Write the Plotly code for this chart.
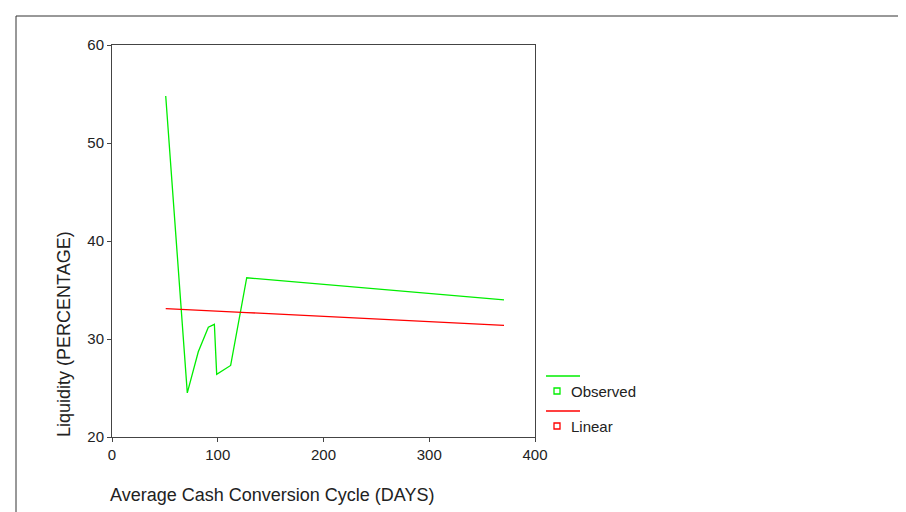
import plotly.graph_objects as go

# Observed series
obs_x = [50.8, 71.2, 81.6, 91.1, 96.8, 99.0, 112.2, 127.4, 370.7]
obs_y = [54.8, 24.5, 28.7, 31.2, 31.5, 26.4, 27.3, 36.25, 34.0]

# Linear fit series
lin_x = [50.8, 71.2, 81.6, 91.1, 96.8, 99.0, 112.2, 127.4, 370.7]
lin_y = [33.1, 33.0, 32.9, 32.9, 32.8, 32.8, 32.8, 32.7, 31.4]

x_ticks = [0, 100, 200, 300, 400]
y_ticks = [20, 30, 40, 50, 60]

x_title = "Average Cash Conversion Cycle (DAYS)"
y_title = "Liquidity (PERCENTAGE)"
legend_names = ["Observed", "Linear"]
colors = ["#00ee00", "#ff0000"]

FONT = "Liberation Sans, Arial, sans-serif"

# page body margin offset (screen px -> figure px)
OFF = 8

fig = go.Figure()
fig.add_trace(go.Scatter(x=obs_x, y=obs_y, mode="lines",
                         line=dict(color=colors[0], width=1.3), showlegend=False))
fig.add_trace(go.Scatter(x=lin_x, y=lin_y, mode="lines",
                         line=dict(color=colors[1], width=1.3), showlegend=False))

axis_common = dict(showgrid=False, zeroline=False, showline=True, mirror=True,
                   linecolor="#444444", linewidth=1, ticks="outside", ticklen=4,
                   tickcolor="#444444", tickfont=dict(family=FONT, size=15, color="#222222"))

fig.update_xaxes(range=[0, 400], tickvals=x_ticks, **axis_common)
fig.update_yaxes(range=[20, 60], tickvals=y_ticks, **axis_common)

W, H = 906 - OFF, 512 - OFF
# plot area in screen coordinates
SL, SR, ST, SB = 112, 535, 45, 437


def px(x):
    return (x - SL) / (SR - SL)


def py(y):
    return (SB - y) / (SB - ST)


shapes = []
# outer border (extends past right and bottom edges)
shapes.append(dict(type="rect", xref="paper", yref="paper",
                   x0=px(16), x1=px(940), y0=py(540), y1=py(16),
                   line=dict(color="#333333", width=1), fillcolor="rgba(0,0,0,0)", layer="below"))

# legend rows
legend_rows = [(376, 391), (411, 426)]
annotations = []
for name, col, (ly, my) in zip(legend_names, colors, legend_rows):
    shapes.append(dict(type="line", xref="paper", yref="paper",
                       x0=px(546), x1=px(580), y0=py(ly), y1=py(ly),
                       line=dict(color=col, width=1.3)))
    shapes.append(dict(type="rect", xref="paper", yref="paper",
                       x0=px(554), x1=px(560), y0=py(my + 3), y1=py(my - 3),
                       line=dict(color=col, width=1.3), fillcolor="white"))
    annotations.append(dict(text=name, xref="paper", yref="paper",
                            x=px(569), y=py(my), xanchor="left", yanchor="middle",
                            showarrow=False, font=dict(family=FONT, size=15, color="#222222")))

annotations.append(dict(text=x_title, xref="paper", yref="paper",
                        x=px(108), y=py(495), xanchor="left", yanchor="middle",
                        showarrow=False, font=dict(family=FONT, size=18, color="#222222")))
annotations.append(dict(text=y_title, xref="paper", yref="paper",
                        x=px(64), y=py(334), xanchor="center", yanchor="middle",
                        textangle=-90, showarrow=False,
                        font=dict(family=FONT, size=18, color="#222222")))

fig.update_layout(width=W, height=H,
                  margin=dict(l=SL - OFF, r=W - (SR - OFF), t=ST - OFF, b=H - (SB - OFF)),
                  paper_bgcolor="white", plot_bgcolor="white",
                  shapes=shapes, annotations=annotations,
                  font=dict(family=FONT))

fig.write_html("out.html")
